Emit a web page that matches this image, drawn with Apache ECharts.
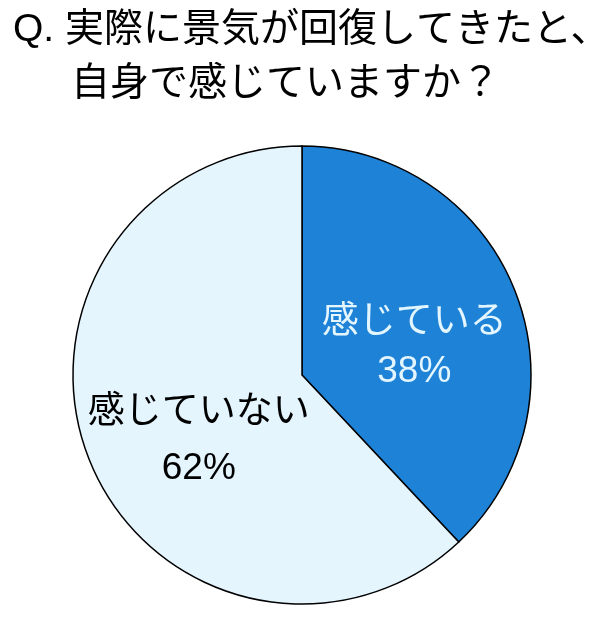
<!DOCTYPE html>
<html>
<head>
<meta charset="utf-8">
<script src="https://cdn.jsdelivr.net/npm/echarts@6/dist/echarts.min.js"></script>
<style>
html,body{margin:0;padding:0;background:#fff;}
#chart{width:598px;height:620px;}
</style>
</head>
<body>
<div id="chart"></div>
<script>
var titleLines = ['Q. 実際に景気が回復してきたと、', '自身で感じていますか？'];
var categories = ['感じている', '感じていない'];
var values = [38, 62];

var FONT = '"Liberation Sans", Arial, "Noto Sans CJK JP", sans-serif';
var sliceColors = ['#1E82D7', '#E5F5FE'];
var labelColors = ['#E3F6FF', '#000000'];
var labelLineHeights = [49, 56];
var labelShift = [[3, 16], [6, 23]];

var chart = echarts.init(document.getElementById('chart'));
chart.setOption({
  backgroundColor: '#ffffff',
  animation: false,
  graphic: [
    { type: 'text', left: 13, top: 11, style: { text: titleLines[0], font: '39px ' + FONT, fill: '#000' } },
    { type: 'text', left: 71, top: 65, style: { text: titleLines[1], font: '39px ' + FONT, fill: '#000' } }
  ],
  series: [{
    type: 'pie',
    center: [302, 375],
    radius: [0, 229],
    startAngle: 90,
    clockwise: true,
    avoidLabelOverlap: false,
    emphasis: { disabled: true },
    itemStyle: { borderColor: '#000', borderWidth: 1.5 },
    label: {
      show: true,
      position: 'inside',
      formatter: '{b}\n{d}%',
      fontFamily: FONT,
      fontSize: 37
    },
    labelLayout: function (p) {
      var s = labelShift[p.dataIndex];
      return { dx: s[0], dy: s[1] };
    },
    data: categories.map(function (c, i) {
      return {
        name: c,
        value: values[i],
        itemStyle: { color: sliceColors[i] },
        label: { color: labelColors[i], lineHeight: labelLineHeights[i] }
      };
    })
  }]
});
</script>
</body>
</html>
